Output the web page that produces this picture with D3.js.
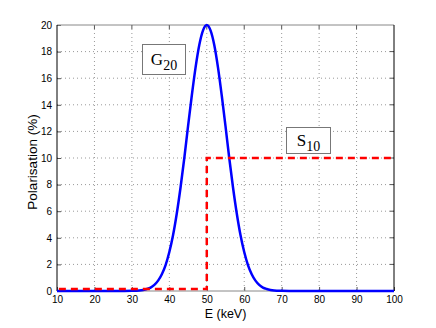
<!DOCTYPE html>
<html>
<head>
<meta charset="utf-8">
<script src="https://cdn.jsdelivr.net/npm/d3@7"></script>
<style>
  body { margin: 0; background: #fff; }
  svg text { font-family: "Liberation Sans", Arial, sans-serif; }
</style>
</head>
<body>
<div id="chart"></div>
<script>
// readings
const xTicks = [10, 20, 30, 40, 50, 60, 70, 80, 90, 100];
const yTicks = [0, 2, 4, 6, 8, 10, 12, 14, 16, 18, 20];

// G20 curve (blue)
const gEnergy = [10, 28, 30, 32, 33, 34, 35, 36, 37, 38, 39, 40, 41, 42, 43, 44, 45, 46, 47, 48, 49, 50,
  51, 52, 53, 54, 55, 56, 57, 58, 59, 60, 61, 62, 63, 64, 65, 66, 67, 68, 70, 72, 100];
const gPol = [0, 0, 0.01, 0.04, 0.08, 0.15, 0.26, 0.46, 0.78, 1.26, 1.95, 2.93, 4.21, 5.85, 7.80, 10.0, 12.4, 14.7, 16.8, 18.5, 19.6, 20,
  19.6, 18.5, 16.8, 14.7, 12.4, 10.0, 7.80, 5.85, 4.21, 2.93, 1.95, 1.26, 0.78, 0.46, 0.26, 0.15, 0.08, 0.04, 0.01, 0, 0];

// S10 step (red dashed)
const sEnergy = [10.5, 50, 50, 100];
const sPol = [0.15, 0.15, 10, 10];

const margin = { top: 25, right: 42, bottom: 37, left: 57 };
const W = 436, H = 328;
const width = W - margin.left - margin.right;
const height = H - margin.top - margin.bottom;

const svg = d3.select("#chart").append("svg")
  .attr("width", W)
  .attr("height", H);

const g = svg.append("g")
  .attr("transform", `translate(${margin.left},${margin.top})`);

const x = d3.scaleLinear().domain([10, 100]).range([0, width]);
const y = d3.scaleLinear().domain([0, 20]).range([height, 0]);

// grid
g.append("g").selectAll("line")
  .data(xTicks.slice(1, -1))
  .enter().append("line")
  .attr("x1", d => x(d)).attr("x2", d => x(d))
  .attr("y1", 0).attr("y2", height)
  .attr("stroke", "#999").attr("stroke-width", 1)
  .attr("stroke-dasharray", "1,3");
g.append("g").selectAll("line")
  .data(yTicks.slice(1, -1))
  .enter().append("line")
  .attr("x1", 0).attr("x2", width)
  .attr("y1", d => y(d)).attr("y2", d => y(d))
  .attr("stroke", "#999").attr("stroke-width", 1)
  .attr("stroke-dasharray", "1,3");

// axes
const xAxis = g.append("g")
  .attr("transform", `translate(0,${height})`)
  .call(d3.axisBottom(x).tickValues(xTicks).tickSizeInner(-4).tickSizeOuter(0).tickPadding(5));
const yAxis = g.append("g")
  .call(d3.axisLeft(y).tickValues(yTicks).tickSizeInner(-4).tickSizeOuter(0).tickPadding(5));
[xAxis, yAxis].forEach(a => {
  a.selectAll("text").attr("font-size", 10).attr("fill", "#000")
    .style("font-family", "Liberation Sans, Arial, sans-serif");
  a.select(".domain").remove();
});
xAxis.selectAll(".tick line").attr("stroke", "#555");
yAxis.selectAll(".tick line").attr("stroke", "#555");

// top / right ticks
g.append("g").selectAll("line").data(xTicks.slice(1, -1)).enter().append("line")
  .attr("x1", d => x(d)).attr("x2", d => x(d)).attr("y1", 0).attr("y2", 4).attr("stroke", "#555");
g.append("g").selectAll("line").data(yTicks.slice(1, -1)).enter().append("line")
  .attr("x1", width - 4).attr("x2", width).attr("y1", d => y(d)).attr("y2", d => y(d)).attr("stroke", "#555");

// box
g.append("line").attr("x1", 0).attr("x2", width).attr("y1", 0).attr("y2", 0).attr("stroke", "#888");
g.append("line").attr("x1", 0).attr("x2", width).attr("y1", height).attr("y2", height).attr("stroke", "#888");
g.append("line").attr("x1", 0).attr("x2", 0).attr("y1", 0).attr("y2", height).attr("stroke", "#000");
g.append("line").attr("x1", width).attr("x2", width).attr("y1", 0).attr("y2", height).attr("stroke", "#000");

// series
const gData = gEnergy.map((e, i) => ({ e: e, p: gPol[i] }));
const sData = sEnergy.map((e, i) => ({ e: e, p: sPol[i] }));

g.append("path")
  .datum(gData)
  .attr("fill", "none")
  .attr("stroke", "#0000ff")
  .attr("stroke-width", 2.5)
  .attr("d", d3.line().x(d => x(d.e)).y(d => y(d.p)).curve(d3.curveMonotoneX));

g.append("path")
  .datum(sData)
  .attr("fill", "none")
  .attr("stroke", "#ff0000")
  .attr("stroke-width", 2.5)
  .attr("stroke-dasharray", "7,5")
  .attr("d", d3.line().x(d => x(d.e)).y(d => y(d.p)));

// text boxes
function labelBox(bx, by, bw, bh, main, sub) {
  svg.append("rect")
    .attr("x", bx).attr("y", by).attr("width", bw).attr("height", bh)
    .attr("fill", "#fff").attr("stroke", "#777").attr("stroke-width", 1);
  const t = svg.append("text")
    .attr("x", bx + bw / 2).attr("y", by + bh / 2 + 5)
    .attr("text-anchor", "middle")
    .style("font-family", "Liberation Serif, Times New Roman, serif")
    .attr("font-size", 17);
  t.append("tspan").text(main);
  t.append("tspan").attr("dy", 5).attr("font-size", 14).text(sub);
}
labelBox(142.5, 44.5, 43, 30, "G", "20");
labelBox(286.5, 127.5, 44, 26, "S", "10");

// axis labels
svg.append("text")
  .attr("x", margin.left + width / 2)
  .attr("y", 318)
  .attr("text-anchor", "middle")
  .attr("font-size", 12.5)
  .text("E (keV)");

svg.append("text")
  .attr("transform", "translate(37,162) rotate(-90)")
  .attr("text-anchor", "middle")
  .attr("font-size", 13.5)
  .text("Polarisation (%)");
</script>
</body>
</html>
